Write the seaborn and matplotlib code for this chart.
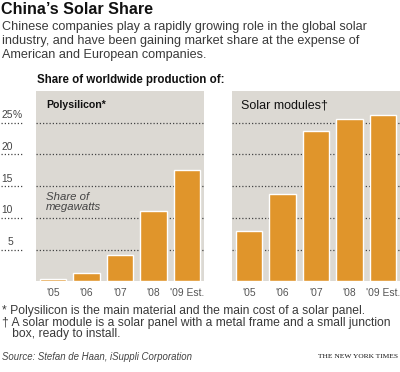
import matplotlib
matplotlib.use("Agg")
import matplotlib.pyplot as plt
import matplotlib.transforms as mtransforms
from matplotlib.lines import Line2D
import seaborn as sns
import pandas as pd

# ---- data ----
years = ["'05", "'06", "'07", "'08", "'09 Est."]
polysilicon = [0.4, 1.3, 4.1, 11.1, 17.5]
solar_modules = [7.9, 13.7, 23.7, 25.6, 26.2]
y_ticks = [5, 10, 15, 20, 25]
y_tick_labels = ["5", "10", "15", "20", "25"]

title = "China\u2019s Solar Share"
subtitle = ["Chinese companies play a rapidly growing role in the global solar",
            "industry, and have been gaining market share at the expense of",
            "American and European companies."]
section = "Share of worldwide production of:"
footnotes = ["* Polysilicon is the main material and the main cost of a solar panel.",
             "\u2020 A solar module is a solar panel with a metal frame and a small junction",
             "   box, ready to install."]
source = "Source: Stefan de Haan, iSuppli Corporation"
credit = "THE NEW YORK TIMES"

BAR = "#e0952b"
PANEL = "#dcd9d3"
GRID = "#444444"
TXT = "#3a3a3a"

sns.set_theme(style="white")
plt.rcParams["font.family"] = ["Liberation Sans", "DejaVu Sans"]

W, H = 400, 372
fig = plt.figure(figsize=(W / 100, H / 100), dpi=100)
fig.patch.set_facecolor("white")

def fx(px):
    return px / W

def fy(py):
    return 1 - py / H

top_px, base_px = 91, 281.3
ax1 = fig.add_axes([fx(36), fy(base_px), fx(168), (base_px - top_px) / H])
ax2 = fig.add_axes([fx(232), fy(base_px), fx(168), (base_px - top_px) / H])

df1 = pd.DataFrame({"year": years, "share": polysilicon})
df2 = pd.DataFrame({"year": years, "share": solar_modules})

for ax, df in [(ax1, df1), (ax2, df2)]:
    ax.set_facecolor(PANEL)
    ax.hlines(y_ticks, -0.5, 4.5, colors=GRID, linewidth=0.9,
              linestyles=(0, (1, 1.6)), zorder=1)
    sns.barplot(data=df, x="year", y="share", color=BAR, saturation=1,
                width=0.79, ax=ax, zorder=2)
    ax.set_xlim(-0.5, 4.5)
    ax.set_ylim(0, 30)
    for s in ax.spines.values():
        s.set_visible(False)
    ax.set_xlabel("")
    ax.set_ylabel("")
    ax.set_yticks([])
    ax.tick_params(axis="x", length=0, pad=4.5, labelsize=7.4, labelcolor="#555555")

# left margin dotted grid segments and y labels
bt = mtransforms.blended_transform_factory(fig.transFigure, ax1.transData)
for v, lab in zip(y_ticks, y_tick_labels):
    fig.add_artist(Line2D([fx(1), fx(22)], [v, v], transform=bt, color=GRID,
                          linewidth=0.9, linestyle=(0, (1, 1.6))))
    tr = mtransforms.offset_copy(bt, fig=fig, x=0, y=2.5, units="dots")
    fig.text(fx(13), v, lab, transform=tr, ha="right", va="bottom",
             fontsize=7.4, color="#444444")
    if lab == "25":
        fig.text(fx(13), v, "%", transform=tr, ha="left", va="bottom",
                 fontsize=7.4, color="#444444")

# panel labels
ax1.text(10 / 168, (281.3 - 105) / 190.3, "Polysilicon*",
         transform=ax1.transAxes, fontsize=7.6, fontweight="bold",
         color="#111111", va="center", ha="left")
ax2.text(9 / 168, (281.3 - 105) / 190.3, "Solar modules\u2020",
         transform=ax2.transAxes, fontsize=9.0, color="#111111",
         va="center", ha="left")
ax1.text(10 / 168, (281.3 - 202.5) / 190.3, "Share of\nmegawatts",
         transform=ax1.transAxes, fontsize=8.2, style="italic",
         color="#444444", va="center", ha="left", linespacing=1.0)

# titles
fig.text(fx(1), fy(10), title, fontsize=11.6, fontweight="bold",
         color="#111111", va="center", ha="left")
for i, line in enumerate(subtitle):
    fig.text(fx(2), fy(27 + 14 * i), line, fontsize=9.1, color=TXT,
             va="center", ha="left")
fig.text(fx(37), fy(80), section, fontsize=8.3, fontweight="bold",
         color="#111111", va="center", ha="left")

# footnotes
for line, py in zip(footnotes, [311, 323, 334]):
    fig.text(fx(2), fy(py), line, fontsize=8.7, color=TXT, va="center", ha="left")
fig.text(fx(2), fy(357), source, fontsize=6.9, style="italic", color="#444444",
         va="center", ha="left")
fig.text(fx(398), fy(357), credit, fontsize=5.4, family="Liberation Serif",
         color="#111111", va="center", ha="right")

fig.savefig("out.png", dpi=100, facecolor="white")
